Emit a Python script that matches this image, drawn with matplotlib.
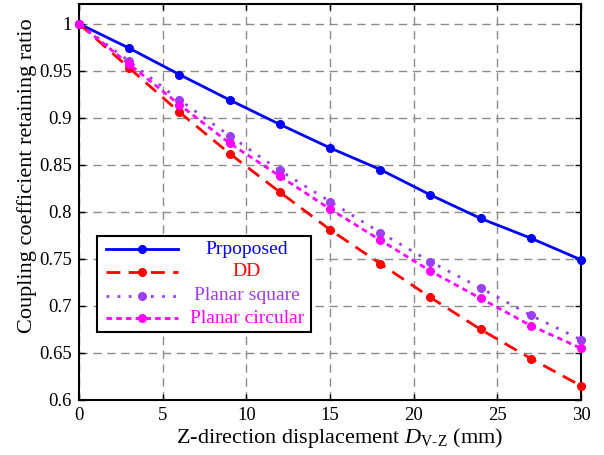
import matplotlib
matplotlib.use('Agg')
import matplotlib.pyplot as plt
from matplotlib.patches import Rectangle
from matplotlib.lines import Line2D

plt.rcParams['font.family'] = ['Liberation Serif', 'DejaVu Serif']
plt.rcParams['mathtext.fontset'] = 'custom'
plt.rcParams['mathtext.it'] = 'Liberation Serif:italic'
plt.rcParams['mathtext.rm'] = 'Liberation Serif'

# data
disp = [0, 3, 6, 9, 12, 15, 18, 21, 24, 27, 30]
proposed = [1.0, 0.974, 0.946, 0.919, 0.893, 0.868, 0.845, 0.818, 0.793, 0.772, 0.749]
dd = [1.0, 0.953, 0.906, 0.862, 0.821, 0.781, 0.745, 0.709, 0.675, 0.644, 0.615]
planar_square = [1.0, 0.960, 0.919, 0.881, 0.844, 0.811, 0.778, 0.747, 0.719, 0.690, 0.664]
planar_circular = [1.0, 0.957, 0.914, 0.873, 0.838, 0.803, 0.770, 0.737, 0.708, 0.679, 0.655]

labels = ['Prpoposed', 'DD', 'Planar square', 'Planar circular']
colors = ['#0000FF', '#FF0000', '#9B3EF5', '#FF00FF']
styles = ['-', (0, (5, 3)), (0, (1, 3)), (0, (2, 1.5))]
series = [proposed, dd, planar_square, planar_circular]

fig = plt.figure(figsize=(6.04, 4.55), dpi=100)
ax = fig.add_axes([0.1308, 0.1209, 0.8313, 0.8703])

for ys, c, ls in zip(series, colors, styles):
    ax.plot(disp, ys, color=c, linestyle=ls, linewidth=2, marker='o',
            markersize=5.5, clip_on=False, zorder=4)

ax.set_xlim(0, 30)
ax.set_ylim(0.6, 1.021)
ax.set_xticks([0, 5, 10, 15, 20, 25, 30])
ax.set_yticks([0.6, 0.65, 0.7, 0.75, 0.8, 0.85, 0.9, 0.95, 1.0])
ax.set_yticklabels(['0.6', '0.65', '0.7', '0.75', '0.8', '0.85', '0.9', '0.95', '1'])
ax.grid(True, color='#8c8c8c', linestyle=(0, (6, 4)), linewidth=1)
ax.tick_params(direction='in', length=4, width=1, labelsize=13.5,
               top=True, right=True, pad=5)
for sp in ax.spines.values():
    sp.set_linewidth(1.5)

ax.set_xlabel('Z-direction displacement $D_{\\mathrm{V}\\mathrm{\\text{-}}\\mathrm{Z}}$ (mm)', fontsize=16)
ax.set_ylabel('Coupling coefficient retaining ratio', fontsize=16)
ax.xaxis.set_label_coords(0.52, -0.066, transform=ax.transAxes)
ax.yaxis.set_label_coords(-0.084, 0.566, transform=ax.transAxes)

# legend box with centred, coloured labels
ax.add_patch(Rectangle((0.036, 0.172), 0.426, 0.242, transform=ax.transAxes,
                       facecolor='white', edgecolor='black', linewidth=1.5, zorder=5))
rows = [0.381, 0.324, 0.263, 0.206]
for yr, lab, c, ls in zip(rows, labels, colors, styles):
    ax.add_line(Line2D([0.054, 0.197], [yr, yr], transform=ax.transAxes, color=c,
                       linestyle=ls, linewidth=2, zorder=6))
    ax.add_line(Line2D([0.125], [yr], transform=ax.transAxes, color=c, marker='o',
                       markersize=5.5, zorder=6))
    ax.text(0.334, yr, lab, transform=ax.transAxes, color=c, fontsize=14,
            ha='center', va='center', zorder=7)

fig.savefig('out.png', dpi=100)
